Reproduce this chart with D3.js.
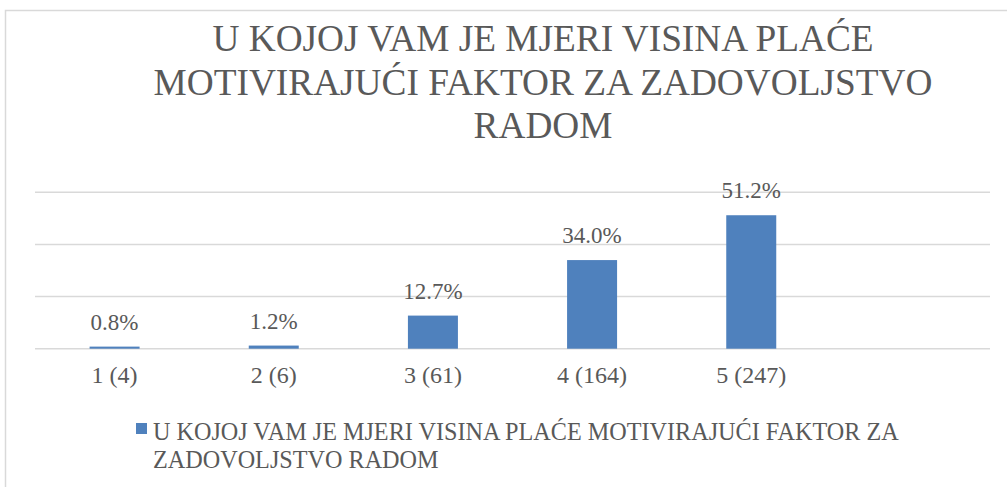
<!DOCTYPE html>
<html>
<head>
<meta charset="utf-8">
<script src="https://cdn.jsdelivr.net/npm/d3@7"></script>
<style>
  html, body { margin: 0; padding: 0; background: #fff; }
  svg { display: block; }
</style>
</head>
<body>
<svg id="chart" width="1007" height="487"></svg>
<script>
// Survey answers (scale 1–5, respondent counts in brackets) and their shares
const categories = ["1 (4)", "2 (6)", "3 (61)", "4 (164)", "5 (247)"];
const shares = [0.8, 1.2, 12.7, 34.0, 51.2];
const valueLabels = ["0.8%", "1.2%", "12.7%", "34.0%", "51.2%"];
const gridTicks = [0, 20, 40, 60];
const titleLines = ["U KOJOJ VAM JE MJERI VISINA PLAĆE", "MOTIVIRAJUĆI FAKTOR ZA ZADOVOLJSTVO", "RADOM"];
const legendLines = ["U KOJOJ VAM JE MJERI VISINA PLAĆE MOTIVIRAJUĆI FAKTOR ZA", "ZADOVOLJSTVO RADOM"];

const svg = d3.select("#chart");
const barColor = "#4f81bd";
const gridColor = "#d9d9d9";
const textColor = "#595959";
const serif = "'Liberation Serif', 'Times New Roman', serif";

// Outer chart frame
svg.append("rect")
  .attr("x", 5.5).attr("y", 10.5)
  .attr("width", 1020).attr("height", 500)
  .attr("fill", "none").attr("stroke", gridColor).attr("stroke-width", 1.5);

// Plot area
const plotLeft = 35, plotRight = 990, plotTop = 192.3, plotBottom = 348.7;
const slot = (plotRight - plotLeft) / 6;

const x = d3.scaleBand()
  .domain(categories)
  .range([plotLeft, plotLeft + slot * categories.length])
  .paddingInner(1 - 50 / slot)
  .paddingOuter((1 - 50 / slot) / 2);

const y = d3.scaleLinear().domain([0, 60]).range([plotBottom, plotTop]);

// Horizontal gridlines
svg.append("g")
  .selectAll("line")
  .data(gridTicks)
  .join("line")
  .attr("x1", plotLeft).attr("x2", plotRight)
  .attr("y1", d => y(d)).attr("y2", d => y(d))
  .attr("stroke", gridColor).attr("stroke-width", 1.5);

// Bars
svg.append("g")
  .selectAll("rect")
  .data(shares)
  .join("rect")
  .attr("x", (d, i) => x(categories[i]))
  .attr("y", d => y(d))
  .attr("width", x.bandwidth())
  .attr("height", d => y(0) - y(d))
  .attr("fill", barColor);

// Value labels above bars
svg.append("g")
  .selectAll("text")
  .data(shares)
  .join("text")
  .attr("x", (d, i) => x(categories[i]) + x.bandwidth() / 2)
  .attr("y", d => y(d) - 17)
  .attr("text-anchor", "middle")
  .style("font-family", serif)
  .style("font-size", "23px")
  .style("fill", textColor)
  .text((d, i) => valueLabels[i]);

// Category axis labels
const xAxis = d3.axisBottom(x).tickSize(0).tickPadding(0);
const axisG = svg.append("g").attr("transform", `translate(0,${plotBottom})`).call(xAxis);
axisG.select(".domain").remove();
axisG.selectAll("text")
  .attr("y", 34).attr("dy", 0)
  .style("font-family", serif)
  .style("font-size", "24px")
  .style("fill", textColor);

// Title
svg.append("text")
  .attr("text-anchor", "middle")
  .style("font-family", serif)
  .style("font-size", "37.3px")
  .style("fill", textColor)
  .selectAll("tspan")
  .data(titleLines)
  .join("tspan")
  .attr("x", 543)
  .attr("y", (d, i) => 51 + i * 43.5)
  .text(d => d);

// Legend
svg.append("rect")
  .attr("x", 136).attr("y", 423)
  .attr("width", 11).attr("height", 11)
  .attr("fill", barColor);
svg.append("text")
  .style("font-family", serif)
  .style("font-size", "24.2px")
  .style("fill", textColor)
  .selectAll("tspan")
  .data(legendLines)
  .join("tspan")
  .attr("x", 153)
  .attr("y", (d, i) => 440 + i * 27.5)
  .text(d => d);
</script>
</body>
</html>
